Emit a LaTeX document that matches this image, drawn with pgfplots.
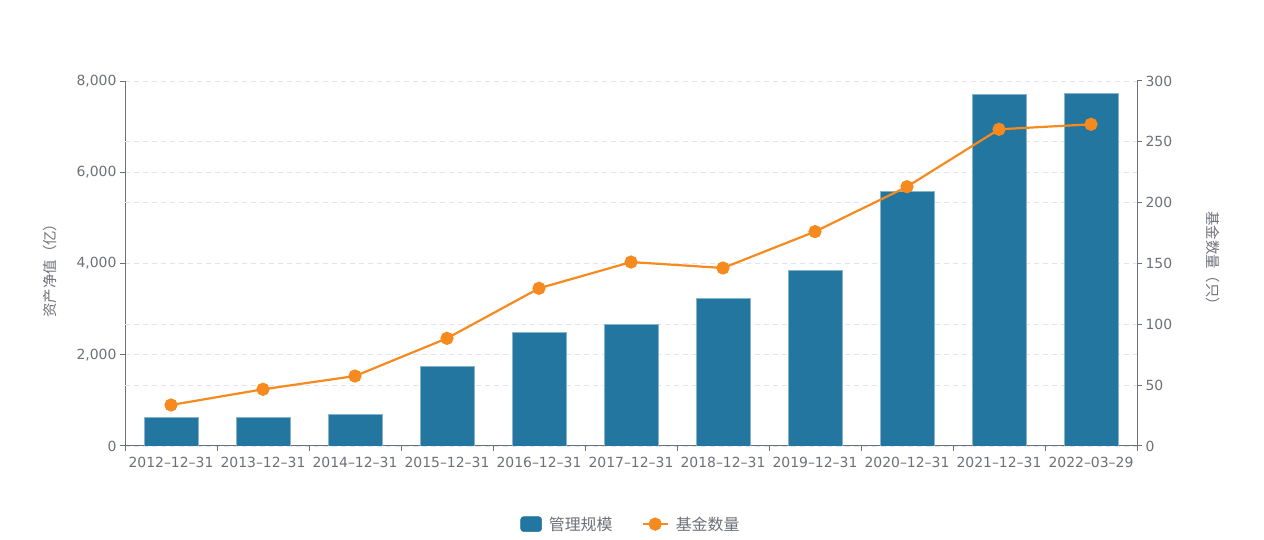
\documentclass[border=0pt]{standalone}
\usepackage{pgfplots}
\pgfplotsset{compat=1.18}
\usepackage{pgfplotstable}
\usepackage{fontspec}
\setmainfont{DejaVu Sans}
\newfontfamily\cjk{Noto Sans CJK SC}
\definecolor{barblue}{HTML}{23769F}
\definecolor{lineorange}{HTML}{F68A1E}
\definecolor{axisgray}{HTML}{6E7079}
\definecolor{gridgray}{HTML}{E0E6F1}

\pgfplotstableread{
x val
0 629
1 621
2 701
3 1739
4 2491
5 2659
6 3237
7 3857
8 5582
9 7700
10 7723
}\bardata

\pgfplotstableread{
x val
0 33.7
1 46.6
2 57.5
3 88.5
4 129.6
5 151.2
6 146.3
7 176.2
8 213.1
9 260.3
10 264.4
}\linedata

\pgfplotsset{
  common/.style={
    at={(125bp,94bp)}, anchor=south west,
    scale only axis, width=1012bp, height=365bp,
    xmin=-0.5, xmax=10.5,
    axis line style={axisgray, line width=1bp, -},
    tick style={axisgray, line width=1bp},
    tick align=outside,
    major tick length=5bp,
    tick label style={font=\fontsize{14}{16}\selectfont, text=axisgray},
    /pgf/number format/assume math mode=true,
    /pgf/number format/1000 sep={,},
    label style={font=\cjk\fontsize{14.5}{16}\selectfont, text=axisgray},
  }
}

\begin{document}
\begin{tikzpicture}
\path[use as bounding box] (0,0) rectangle (1264bp,540bp);
\begin{axis}[
  common,
  ymin=0, ymax=8000,
  axis x line*=bottom, axis y line*=left,
  ytick={0,2000,4000,6000,8000},
  extra y ticks={1333.33,2666.67,5333.33,6666.67},
  extra y tick labels={},
  extra y tick style={major tick length=0pt, grid=major},
  ymajorgrids,
  grid style={gridgray, line width=0.8bp, dash pattern=on 5bp off 4bp},
  xtick={-0.5,0.5,...,10.5},
  x tick label as interval=true,
  xticklabel style={yshift=-3bp},
  xticklabels={2012--12--31,2013--12--31,2014--12--31,2015--12--31,2016--12--31,2017--12--31,2018--12--31,2019--12--31,2020--12--31,2021--12--31,2022--03--29},
  scaled y ticks=false,
  ylabel={资产净值（亿）},
  ylabel style={at={(axis description cs:-0.0741,0.49)}, anchor=center},
  ybar, bar width=54bp,
]
\addplot[fill=barblue, draw=barblue!55!white, line width=0.5bp] table[x=x,y=val] {\bardata};
\end{axis}
\begin{axis}[
  common,
  ymin=0, ymax=300,
  axis x line=none, axis y line*=right,
  ytick={0,50,...,300},
  ylabel={基金数量（只）},
  ylabel style={at={(axis description cs:1.0751,0.505)}, anchor=center, rotate=180},
  legend style={at={(axis description cs:0.5,-0.214)}, anchor=center, draw=none, fill=none,
    font=\cjk\fontsize{16}{18}\selectfont, text=axisgray,
    legend columns=2,
    /tikz/every odd column/.append style={column sep=5bp},
    /tikz/every even column/.append style={column sep=27bp},
    inner sep=0pt},
  legend cell align=left,
]
\addlegendimage{legend image code/.code={\fill[barblue, rounded corners=3bp] (0bp,-7.5bp) rectangle (21bp,7.5bp);}}
\addlegendentry{管理规模}
\addplot[lineorange, line width=2.2bp, mark=*, mark size=5.5bp, mark options={fill=lineorange, draw=lineorange},
  legend image code/.code={\draw[lineorange, line width=2.2bp] (0bp,0bp) -- (25bp,0bp); \fill[lineorange] (12.5bp,0bp) circle (5.5bp);}]
  table[x=x,y=val] {\linedata};
\addlegendentry{基金数量}
\end{axis}
\end{tikzpicture}
\end{document}
